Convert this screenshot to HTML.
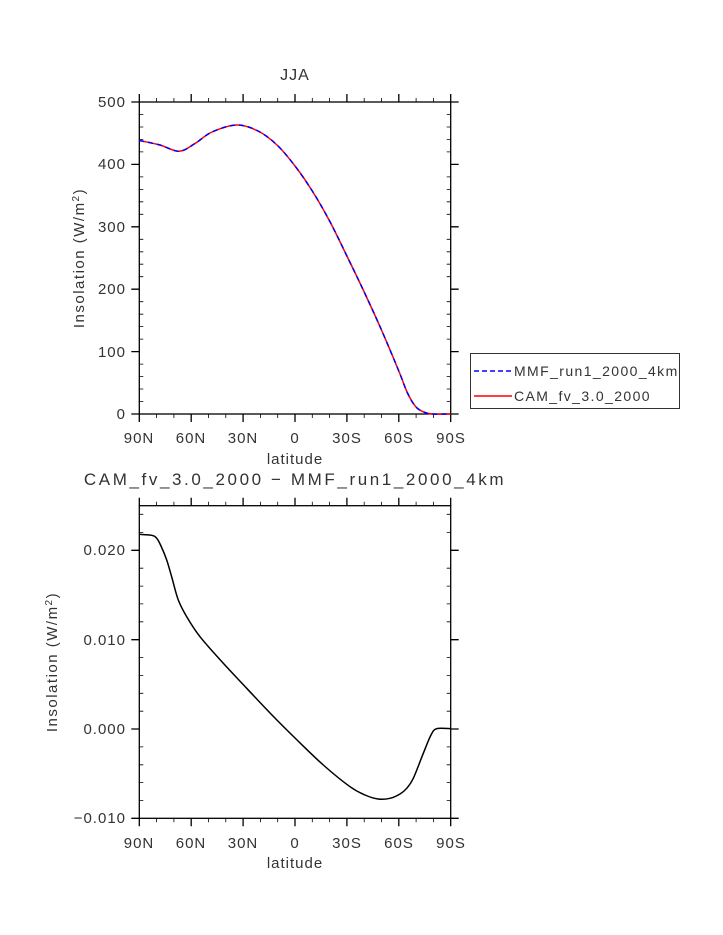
<!DOCTYPE html><html><head><style>body{margin:0;background:#fff}svg{display:block}text{font-family:"Liberation Sans",sans-serif;fill:#333}</style></head><body>
<svg width="723" height="935" xmlns="http://www.w3.org/2000/svg">
<g id="p1">
<text x="295" y="80" font-size="16" text-anchor="middle" letter-spacing="1">JJA</text>
<rect x="139.3" y="102" width="311.4" height="312" fill="none" stroke="#000" stroke-width="1.3"/>
<g stroke="#000" stroke-width="1.3">
<path d="M139.3,414v8M191.2,414v8M243.1,414v8M295,414v8M346.9,414v8M398.8,414v8M450.7,414v8M139.3,102v-8M191.2,102v-8M243.1,102v-8M295,102v-8M346.9,102v-8M398.8,102v-8M450.7,102v-8"/>
<path d="M139.3,102h-8M139.3,164.4h-8M139.3,226.8h-8M139.3,289.2h-8M139.3,351.6h-8M139.3,414h-8M450.7,102h8M450.7,164.4h8M450.7,226.8h8M450.7,289.2h8M450.7,351.6h8M450.7,414h8"/>
</g>
<g stroke="#000" stroke-width="0.8">
<path d="M156.6,414v4M173.9,414v4M208.5,414v4M225.8,414v4M260.4,414v4M277.7,414v4M312.3,414v4M329.6,414v4M364.2,414v4M381.5,414v4M416.1,414v4M433.4,414v4M156.6,102v-4M173.9,102v-4M208.5,102v-4M225.8,102v-4M260.4,102v-4M277.7,102v-4M312.3,102v-4M329.6,102v-4M364.2,102v-4M381.5,102v-4M416.1,102v-4M433.4,102v-4"/>
<path id="ym" d="M139.3,114.5h4M139.3,127h4M139.3,139.4h4M139.3,151.9h4M139.3,176.9h4M139.3,189.4h4M139.3,201.8h4M139.3,214.3h4M139.3,239.3h4M139.3,251.8h4M139.3,264.2h4M139.3,276.7h4M139.3,301.7h4M139.3,314.2h4M139.3,326.6h4M139.3,339.1h4M139.3,364.1h4M139.3,376.6h4M139.3,389h4M139.3,401.5h4"/>
<use href="#ym" transform="translate(307.4,0)"/>
</g>
<g font-size="15" text-anchor="end" letter-spacing="1"><text x="126" y="107">500</text><text x="126" y="169">400</text><text x="126" y="232">300</text><text x="126" y="294">200</text><text x="126" y="357">100</text><text x="126" y="419">0</text></g>
<g font-size="15" text-anchor="middle" letter-spacing="1"><text x="139" y="443">90N</text><text x="191" y="443">60N</text><text x="243" y="443">30N</text><text x="295" y="443">0</text><text x="347" y="443">30S</text><text x="399" y="443">60S</text><text x="451" y="443">90S</text></g>
<text x="295" y="464" font-size="15" text-anchor="middle" letter-spacing="1">latitude</text>
<text transform="translate(84,258) rotate(-90)" font-size="15" text-anchor="middle" letter-spacing="1.5">Insolation (W/m<tspan dy="-5" font-size="10">2</tspan><tspan dy="5">)</tspan></text>
<path id="c1" fill="none" stroke="#f00" stroke-width="1.5"/>
<path id="c1b" fill="none" stroke="#00f" stroke-width="1.5" stroke-dasharray="5,4"/>
</g>
<rect x="470.5" y="353.5" width="209" height="55" fill="#fff" stroke="#000" stroke-width="0.8"/>
<path d="M474,371h38" stroke="#00f" stroke-width="1.5" stroke-dasharray="5,3"/>
<path d="M474,396h38" stroke="#f00" stroke-width="1.5"/>
<text x="514" y="376" font-size="14" letter-spacing="1.4">MMF_run1_2000_4km</text>
<text x="514" y="401" font-size="14" letter-spacing="1.4">CAM_fv_3.0_2000</text>
<g id="p2">
<text x="295" y="485" font-size="17" text-anchor="middle" letter-spacing="2.6">CAM_fv_3.0_2000 − MMF_run1_2000_4km</text>
<rect x="139.3" y="505.7" width="311.4" height="312.6" fill="none" stroke="#000" stroke-width="1.3"/>
<g stroke="#000" stroke-width="1.3">
<path d="M139.3,818.3v8M191.2,818.3v8M243.1,818.3v8M295,818.3v8M346.9,818.3v8M398.8,818.3v8M450.7,818.3v8M139.3,505.7v-8M191.2,505.7v-8M243.1,505.7v-8M295,505.7v-8M346.9,505.7v-8M398.8,505.7v-8M450.7,505.7v-8"/>
<path d="M139.3,550.3h-8M139.3,639.7h-8M139.3,729h-8M139.3,818.3h-8M450.7,550.3h8M450.7,639.7h8M450.7,729h8M450.7,818.3h8"/>
</g>
<g stroke="#000" stroke-width="0.8">
<path d="M156.6,818.3v4M173.9,818.3v4M208.5,818.3v4M225.8,818.3v4M260.4,818.3v4M277.7,818.3v4M312.3,818.3v4M329.6,818.3v4M364.2,818.3v4M381.5,818.3v4M416.1,818.3v4M433.4,818.3v4M156.6,505.7v-4M173.9,505.7v-4M208.5,505.7v-4M225.8,505.7v-4M260.4,505.7v-4M277.7,505.7v-4M312.3,505.7v-4M329.6,505.7v-4M364.2,505.7v-4M381.5,505.7v-4M416.1,505.7v-4M433.4,505.7v-4"/>
<path id="ym2" d="M139.3,514.3h4M139.3,532.4h4M139.3,568.2h4M139.3,586.1h4M139.3,603.9h4M139.3,621.8h4M139.3,657.6h4M139.3,675.4h4M139.3,693.3h4M139.3,711.2h4M139.3,746.9h4M139.3,764.8h4M139.3,782.6h4M139.3,800.5h4"/>
<use href="#ym2" transform="translate(307.4,0)"/>
</g>
<g font-size="15" text-anchor="end" letter-spacing="1"><text x="126" y="555">0.020</text><text x="126" y="645">0.010</text><text x="126" y="734">0.000</text><text x="126" y="823">−0.010</text></g>
<g font-size="15" text-anchor="middle" letter-spacing="1"><text x="139" y="848">90N</text><text x="191" y="848">60N</text><text x="243" y="848">30N</text><text x="295" y="848">0</text><text x="347" y="848">30S</text><text x="399" y="848">60S</text><text x="451" y="848">90S</text></g>
<text x="295" y="868" font-size="15" text-anchor="middle" letter-spacing="1">latitude</text>
<text transform="translate(57,662) rotate(-90)" font-size="15" text-anchor="middle" letter-spacing="1.5">Insolation (W/m<tspan dy="-5" font-size="10">2</tspan><tspan dy="5">)</tspan></text>
<path id="c2" fill="none" stroke="#000" stroke-width="1.5"/>
</g>
</svg>
<script>
function cr(p){var d="M"+p[0][0]+","+p[0][1];for(var i=0;i<p.length-1;i++){var a=p[i-1]||p[i],b=p[i],c=p[i+1],e=p[i+2]||c;d+=" C"+(b[0]+(c[0]-a[0])/6).toFixed(2)+","+(b[1]+(c[1]-a[1])/6).toFixed(2)+" "+(c[0]-(e[0]-b[0])/6).toFixed(2)+","+(c[1]-(e[1]-b[1])/6).toFixed(2)+" "+c[0]+","+c[1];}return d;}
var p1=[[139.3,140.5],[160,145],[179,151.3],[195,143.5],[212,132],[236.7,125],[258,131],[277,145],[295,166],[312.3,191],[329.6,221],[346.9,256],[364.2,292],[381.5,330],[398.8,371],[407.5,393],[416,407],[425,412.5],[433,414],[450.7,414]];
var d1=cr(p1);document.getElementById("c1").setAttribute("d",d1);document.getElementById("c1b").setAttribute("d",d1);
var p2=[[139.3,534.3],[151.7,535.3],[156.7,538.3],[161,546],[166.7,560],[172,578],[178.3,600],[186.7,616.7],[200,636.7],[223.3,663.3],[246.7,688.3],[271,714],[295,738],[323.3,765],[350,786.7],[365,795],[378,799],[390,798.3],[400,794],[406.7,788.3],[413.3,778.3],[423.3,753.3],[431,735],[436.7,728.7],[451,728.7]];
document.getElementById("c2").setAttribute("d",cr(p2));
</script>
</body></html>
